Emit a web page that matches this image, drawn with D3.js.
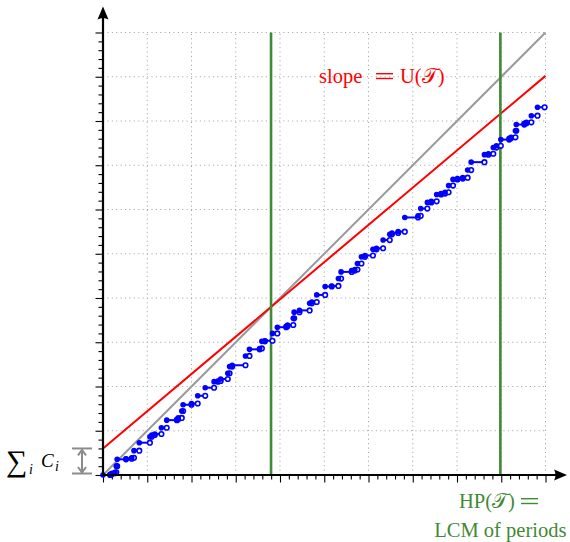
<!DOCTYPE html>
<html>
<head>
<meta charset="utf-8">
<script src="https://cdn.jsdelivr.net/npm/d3@7"></script>
<style>
  html, body { margin: 0; padding: 0; background: #fff; }
  svg { display: block; }
  text { font-family: "Liberation Serif", "DejaVu Serif", serif; }
</style>
</head>
<body>
<svg id="chart" width="570" height="542"></svg>
<script>
// Cumulative work: value held on [stepT[k], stepT[k+1]), last piece ends at stepEnd
const stepT = [0, 0.8, 1.0, 1.35, 1.5, 1.6, 2.6, 3.25, 3.5, 4.1, 5.3, 5.5, 5.85, 6.6, 7.2, 8.35, 8.5, 8.9, 9.05, 10.0,
  10.7, 11.55, 12.55, 13.0, 13.3, 14.1, 14.3, 14.6, 16.1, 16.55, 17.7, 17.95, 18.3, 19.15, 19.7, 20.7, 20.85, 21.5, 21.6, 22.2,
  23.35, 23.6, 24.15, 25.1, 25.85, 26.6, 26.9, 28.1, 28.45, 28.75, 29.2, 29.6, 30.5, 30.9, 31.65, 32.4, 32.65, 33.35, 34.1, 35.6,
  35.9, 36.65, 37.1, 37.7, 38.2, 38.65, 39.05, 39.55, 40.05, 40.65, 41.2, 41.6, 43.1, 43.55, 44.1, 44.45, 44.95, 45.9, 46.1, 46.6,
  46.7, 47.6, 47.85, 48.4, 49.1];
const stepV = [0, 0.08, 0.2, 0.3, 1.0, 1.77, 1.84, 1.95, 2.75, 3.65, 4.33, 4.52, 4.63, 5.34, 6.2, 6.3, 6.45, 7.23, 7.94, 8.08,
  8.95, 9.86, 10.55, 10.62, 10.85, 11.5, 12.25, 12.4, 13.45, 14.2, 14.3, 15.1, 15.17, 16.0, 16.7, 16.8, 16.95, 17.7, 18.4, 18.6,
  19.4, 19.55, 20.35, 21.3, 21.36, 22.2, 22.95, 23.1, 23.22, 23.9, 24.65, 24.8, 25.5, 25.62, 26.55, 27.2, 27.35, 27.5, 29.1, 29.28,
  30.1, 30.8, 30.92, 31.7, 31.8, 31.95, 32.7, 33.4, 33.5, 33.6, 34.45, 35.35, 36.2, 36.3, 37.0, 37.2, 37.9, 38.05, 38.15, 38.9,
  39.6, 39.75, 39.85, 40.6, 41.55];
const stepEnd = 49.9;

const sumC = 3;          // sum of execution times
const utilization = 0.842;
const hyperperiod = 44.9;
const axisMax = 50;
const majorTicks = d3.range(0, 51, 5);
const minorTicks = d3.range(0, 51, 1).filter(d => d % 5 !== 0);

const svg = d3.select("#chart");
const x = d3.scaleLinear().domain([0, axisMax]).range([103, 545.5]);
const y = d3.scaleLinear().domain([0, axisMax]).range([475, 32.5]);

// dotted grid
const grid = svg.append("g").attr("stroke", "#a6a6a6").attr("stroke-width", 1)
  .attr("stroke-dasharray", "1.1,3.3").attr("fill", "none");
majorTicks.filter(d => d > 0).forEach(d => {
  grid.append("line").attr("x1", x(d)).attr("x2", x(d)).attr("y1", y(0)).attr("y2", y(axisMax));
  grid.append("line").attr("x1", x(0)).attr("x2", x(axisMax)).attr("y1", y(d)).attr("y2", y(d));
});

// tick marks through d3 axes
function tickAxis(axisFn, scale, values, size) {
  return axisFn(scale).tickValues(values).tickSize(size).tickFormat("");
}
const gx = svg.append("g").attr("transform", `translate(0,${y(0)})`);
gx.append("g").call(tickAxis(d3.axisBottom, x, minorTicks, 4.5));
gx.append("g").call(tickAxis(d3.axisBottom, x, majorTicks, 7.5));
const gy = svg.append("g").attr("transform", `translate(${x(0)},0)`);
gy.append("g").call(tickAxis(d3.axisLeft, y, minorTicks, 4.5));
gy.append("g").call(tickAxis(d3.axisLeft, y, majorTicks, 7.5));
svg.selectAll(".domain").remove();
svg.selectAll(".tick line").attr("stroke", "#000").attr("stroke-width", 1.1);

// diagonal y = t
svg.append("line").attr("x1", x(0)).attr("y1", y(0)).attr("x2", x(axisMax)).attr("y2", y(axisMax))
  .attr("stroke", "#9b9b9b").attr("stroke-width", 2);

// bound sumC + U t
svg.append("line").attr("x1", x(0)).attr("y1", y(sumC))
  .attr("x2", x(axisMax)).attr("y2", y(sumC + utilization * axisMax))
  .attr("stroke", "#ff0000").attr("stroke-width", 2);

// vertical markers: crossing of the two lines and the hyperperiod
const crossing = sumC / (1 - utilization);
const green = "#3f8a34";
[crossing, hyperperiod].forEach(t => {
  svg.append("line").attr("x1", x(t)).attr("x2", x(t)).attr("y1", y(0)).attr("y2", y(axisMax))
    .attr("stroke", green).attr("stroke-width", 2.6);
});

// staircase
const pieces = stepT.map((t, i) => ({ t0: t, t1: i + 1 < stepT.length ? stepT[i + 1] : stepEnd, v: stepV[i] }));
const blue = "#0000ff";
const stair = svg.append("g");
stair.selectAll("line").data(pieces).join("line")
  .attr("x1", d => x(d.t0)).attr("x2", d => x(d.t1))
  .attr("y1", d => y(d.v)).attr("y2", d => y(d.v))
  .attr("stroke", blue).attr("stroke-width", 2);
stair.selectAll("circle.open").data(pieces).join("circle").attr("class", "open")
  .attr("cx", d => x(d.t1)).attr("cy", d => y(d.v)).attr("r", 2.3)
  .attr("fill", "#fff").attr("stroke", blue).attr("stroke-width", 1.6);
stair.selectAll("circle.fill").data(pieces).join("circle").attr("class", "fill")
  .attr("cx", d => x(d.t0)).attr("cy", d => y(d.v)).attr("r", 2.8)
  .attr("fill", blue);

// axes with arrow heads
svg.append("line").attr("x1", x(0) - 1).attr("x2", 556).attr("y1", y(0)).attr("y2", y(0))
  .attr("stroke", "#000").attr("stroke-width", 2.2);
svg.append("line").attr("x1", x(0)).attr("x2", x(0)).attr("y1", y(0) + 1).attr("y2", 18)
  .attr("stroke", "#000").attr("stroke-width", 2.2);
svg.append("path").attr("d", `M567,${y(0)} L554,${y(0) - 5.5} Q557,${y(0)} 554,${y(0) + 5.5} Z`).attr("fill", "#000");
svg.append("path").attr("d", `M${x(0)},6.5 L${x(0) - 5.5},19.5 Q${x(0)},16.5 ${x(0) + 5.5},19.5 Z`).attr("fill", "#000");

// sum-of-C brace on the left
const bx = 82, gray = "#8c8c8c";
const brace = svg.append("g").attr("stroke", gray).attr("stroke-width", 2).attr("fill", "none");
brace.append("line").attr("x1", 72).attr("x2", 92).attr("y1", y(sumC)).attr("y2", y(sumC));
brace.append("line").attr("x1", 72).attr("x2", 92).attr("y1", y(0) - 1.5).attr("y2", y(0) - 1.5);
brace.append("line").attr("x1", bx).attr("x2", bx).attr("y1", y(sumC) + 2).attr("y2", y(0) - 3);
brace.append("path").attr("d", `M${bx - 4},${y(sumC) + 7} L${bx},${y(sumC) + 1.5} L${bx + 4},${y(sumC) + 7}`);
brace.append("path").attr("d", `M${bx - 4},${y(0) - 8} L${bx},${y(0) - 2.5} L${bx + 4},${y(0) - 8}`);

const lab = svg.append("g").attr("fill", "#000");
lab.append("text").attr("x", 6).attr("y", 471).attr("font-size", 30).text("∑");
lab.append("text").attr("x", 29).attr("y", 474).attr("font-size", 14).attr("font-style", "italic").text("i");
lab.append("text").attr("x", 41).attr("y", 467).attr("font-size", 19).attr("font-style", "italic").text("C");
lab.append("text").attr("x", 55).attr("y", 471).attr("font-size", 14).attr("font-style", "italic").text("i");

// wide math-style equals sign
function eq(g, cx, baseline, color) {
  g.append("rect").attr("x", cx - 8.5).attr("y", baseline - 10).attr("width", 17).attr("height", 1.4).attr("fill", color);
  g.append("rect").attr("x", cx - 8.5).attr("y", baseline - 5.2).attr("width", 17).attr("height", 1.4).attr("fill", color);
}

// slope label
const red = svg.append("g").attr("fill", "#ff0000").attr("font-size", 20.5);
red.append("text").attr("x", 319).attr("y", 83).text("slope");
eq(red, 384.5, 83, "#ff0000");
red.append("text").attr("x", 400).attr("y", 83).text("U(𝒯)");

// hyperperiod label
const gl = svg.append("g").attr("fill", green).attr("font-size", 20.5);
gl.append("text").attr("x", 459).attr("y", 508).text("HP(𝒯)");
eq(gl, 529.5, 508, green);
gl.append("text").attr("x", x(hyperperiod)).attr("y", 537).attr("text-anchor", "middle").text("LCM of periods");
</script>
</body>
</html>
